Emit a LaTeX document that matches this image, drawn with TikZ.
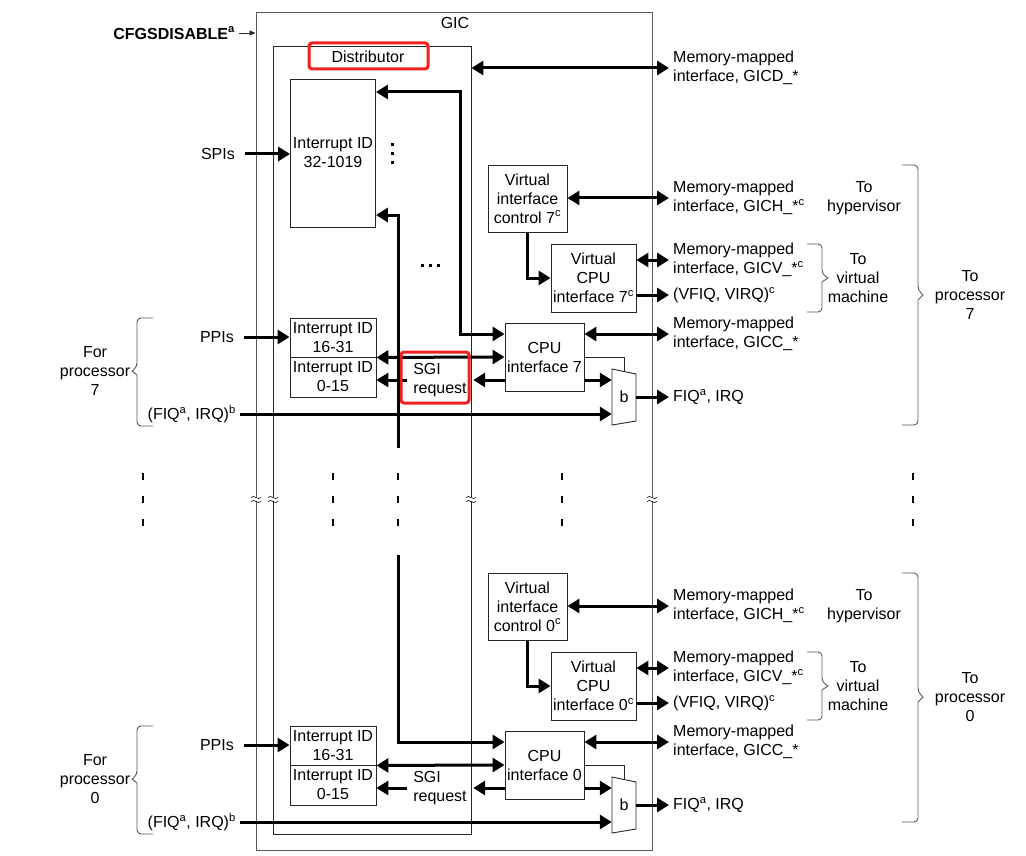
\documentclass[tikz,border=0pt]{standalone}
\usepackage{fontspec}
\setmainfont{Liberation Sans}
\usepackage{tikz}
\usetikzlibrary{arrows.meta,positioning,calc}
\definecolor{markred}{RGB}{240,32,32}
\tikzset{
box/.style={draw=black!85, line width=0.9pt, inner sep=0pt, align=center}, % plain blocks
txt/.style={inner sep=0pt, align=center},
ltxt/.style={inner sep=0pt, align=left, anchor=west}, % labels right of GIC
wire/.style={draw=black!85, line width=0.9pt},
tip/.style={-{Triangle[length=12pt,width=14pt]}, line width=3pt},
bitip/.style={{Triangle[length=12pt,width=14pt]}-{Triangle[length=12pt,width=14pt]}, line width=3pt},
hilite/.style={draw=markred, line width=3pt, rounded corners=3pt, inner sep=0pt},
grp/.style={draw=black!65, line width=0.9pt, rounded corners=4pt},
}

\begin{document}
\begin{tikzpicture}[x=1pt,y=-1pt,font=\fontsize{16pt}{19pt}\selectfont]
\useasboundingbox (0,0) rectangle (1026,856);
% outer frames
\node[box, draw=black!65, minimum width=396pt, minimum height=838pt] (gic) at (454,431) {};
\node[txt] (giclbl) at (455,23) {GIC};
\node[box, minimum width=198pt, minimum height=788pt] (dist) at (372,440) {};
\node[txt] (distlbl) at (368,57) {Distributor};
\node[hilite, minimum width=119pt, minimum height=26pt] (distmark) at (368.5,56) {};
\node[txt, anchor=east, font=\bfseries\fontsize{16pt}{19pt}\selectfont] (cfg) at (235,33) {CFGSDISABLE\textsuperscript{a}};
\draw[wire, -{Triangle[length=6pt,width=5pt]}, shorten <=4pt] (cfg.east) -- (gic.west |- cfg.east);

% shared interrupts
\node[txt, anchor=east] (spi) at (235,154) {SPIs};
\node[box, minimum width=85pt, minimum height=148pt] (int32) at (333,153) {Interrupt ID\\32-1019};
\draw[tip, shorten <=10pt] (spi.east) -- (int32.west |- spi.east);
\node[ltxt] (mmd) at (673,68) {Memory-mapped\\interface, GICD\_*};
\draw[bitip, shorten >=4pt] (dist.east |- mmd.west) -- (mmd.west);
\foreach \y in {145,154,163} \fill (390.5,\y-1.5) rectangle (393.5,\y+1.5);
\foreach \x in {422,430,438} \fill (\x-1.5,263.5) rectangle (\x+1.5,266.5);

% one block per processor
\foreach \n/\dy/\bb/\tp in {7/0/425/295, 0/408/414/289}{
\begin{scope}[yshift=-\dy pt]
\node[box, minimum width=79pt, minimum height=67pt] (vic\n) at (527.5,198.5) {Virtual\\interface\\control \n\textsuperscript{c}};
\node[box, minimum width=85pt, minimum height=68pt] (vcpu\n) at (593.5,278) {Virtual\\CPU\\interface \n\textsuperscript{c}};
\node[box, minimum width=79pt, minimum height=68pt] (cpu\n) at (544.5,357) {CPU\\interface \n};
\node[box, minimum width=86pt, minimum height=39pt] (ppi\n) at (333,337.5) {Interrupt ID\\16-31};
\node[box, minimum width=86pt, minimum height=40pt] (sgi\n) at (333,377) {Interrupt ID\\0-15};
\node[txt, align=left, minimum width=66pt] (req\n) at (440,380) {SGI\\request};
\node[txt, minimum width=24pt, minimum height=52pt] (mux\n) at (624,397) {b};
\draw[wire] (612,369) -- (636,374) -- (636,421) -- (612,425) -- cycle;

\node[ltxt] (mmh\n) at (673,198) {Memory-mapped\\interface, GICH\_*\textsuperscript{c}};
\node[ltxt] (mmv\n) at (673,260) {Memory-mapped\\interface, GICV\_*\textsuperscript{c}};
\node[ltxt] (vfiq\n) at (673,295) {(VFIQ, VIRQ)\textsuperscript{c}};
\node[ltxt] (mmc\n) at (673,334) {Memory-mapped\\interface, GICC\_*};
\node[ltxt] (fiq\n) at (673,397) {FIQ\textsuperscript{a}, IRQ};
\node[txt] (toh\n) at (864,198.5) {To\\hypervisor};
\node[txt] (tovm\n) at (858,278) {To\\virtual\\machine};
\node[txt] (top\n) at (970,\tp) {To\\processor\\\n};

\node[txt, anchor=east] (ppil\n) at (234,337) {PPIs};
\node[txt, anchor=east] (fiqin\n) at (236,414) {(FIQ\textsuperscript{a}, IRQ)\textsuperscript{b}};
\node[txt] (forp\n) at (95,371) {For\\processor\\\n};

\draw[grp] (153,318) -- (137,318) -- (137,367) [sharp corners] -- (132,371) -- (137,375) [rounded corners=4pt] -- (137,426) -- (153,426);
\draw[grp] (807,244) -- (822,244) -- (822,274) [sharp corners] -- (828,278) -- (822,282) [rounded corners=4pt] -- (822,312) -- (807,312);
\draw[grp] (902,165) -- (918,165) -- (918,\tp-5) [sharp corners] -- (923,\tp) -- (918,\tp+5) [rounded corners=4pt] -- (918,\bb) -- (902,\bb);

\draw[bitip, shorten >=4pt] (vic\n.east |- mmh\n.west) -- (mmh\n.west);
\draw[tip] (vic\n.south) |- (vcpu\n.west);
\draw[bitip, shorten >=4pt] (vcpu\n.east |- mmv\n.west) -- (mmv\n.west);
\draw[tip, shorten >=4pt] (vcpu\n.east |- vfiq\n.west) -- (vfiq\n.west);
\draw[bitip, shorten >=4pt] (cpu\n.east |- mmc\n.west) -- (mmc\n.west);
\draw[tip] (cpu\n.east |- 0,380) -- (mux\n.west |- 0,380);
\draw[wire] (cpu\n.east |- 0,357) -| (mux\n.north);
\draw[tip, shorten >=4pt] (mux\n.east) -- (fiq\n.west);
\draw[tip, shorten <=10pt] (ppil\n.east) -- (ppi\n.west |- ppil\n.east);
\draw[tip, shorten <=4pt] (fiqin\n.east) -- (mux\n.west |- fiqin\n.east);
\draw[bitip] (ppi\n.south east) -- (cpu\n.west);
\draw[tip] (cpu\n.west |- req\n.east) -- (req\n.east);
\draw[tip] (req\n.west) -- (sgi\n.east |- req\n.west);
\end{scope}
}
\node[hilite, minimum width=68pt, minimum height=51pt] (reqmark) at (435,377.5) {};

% distributor to cpu interfaces
\coordinate (cut1) at (398,448);
\coordinate (cut2) at (398,555);
\draw[bitip] (int32.east |- 0,92) -| (460,334) -- (cpu7.west |- 0,334);
\draw[{Triangle[length=12pt,width=14pt]}-, line width=3pt] (int32.east |- 0,215) -| (cut1);
\draw[tip] (cut2) |- (cpu0.west |- 0,742);

% elided processors
\foreach \x in {143,333,398,562,913}
  \foreach \y in {476,499,522} \fill (\x-1.2,\y-3.5) rectangle (\x+1.2,\y+3.5);
\foreach \x in {256,273,471,652}{
  \fill[white] (\x-5,497) rectangle (\x+5,501);
  \draw[line width=0.6pt] (\x-5,497.5) .. controls (\x-2,494) and (\x+2,501) .. (\x+5,497.5);
  \draw[line width=0.6pt] (\x-5,501.5) .. controls (\x-2,498) and (\x+2,505) .. (\x+5,501.5);
}
\end{tikzpicture}
\end{document}
